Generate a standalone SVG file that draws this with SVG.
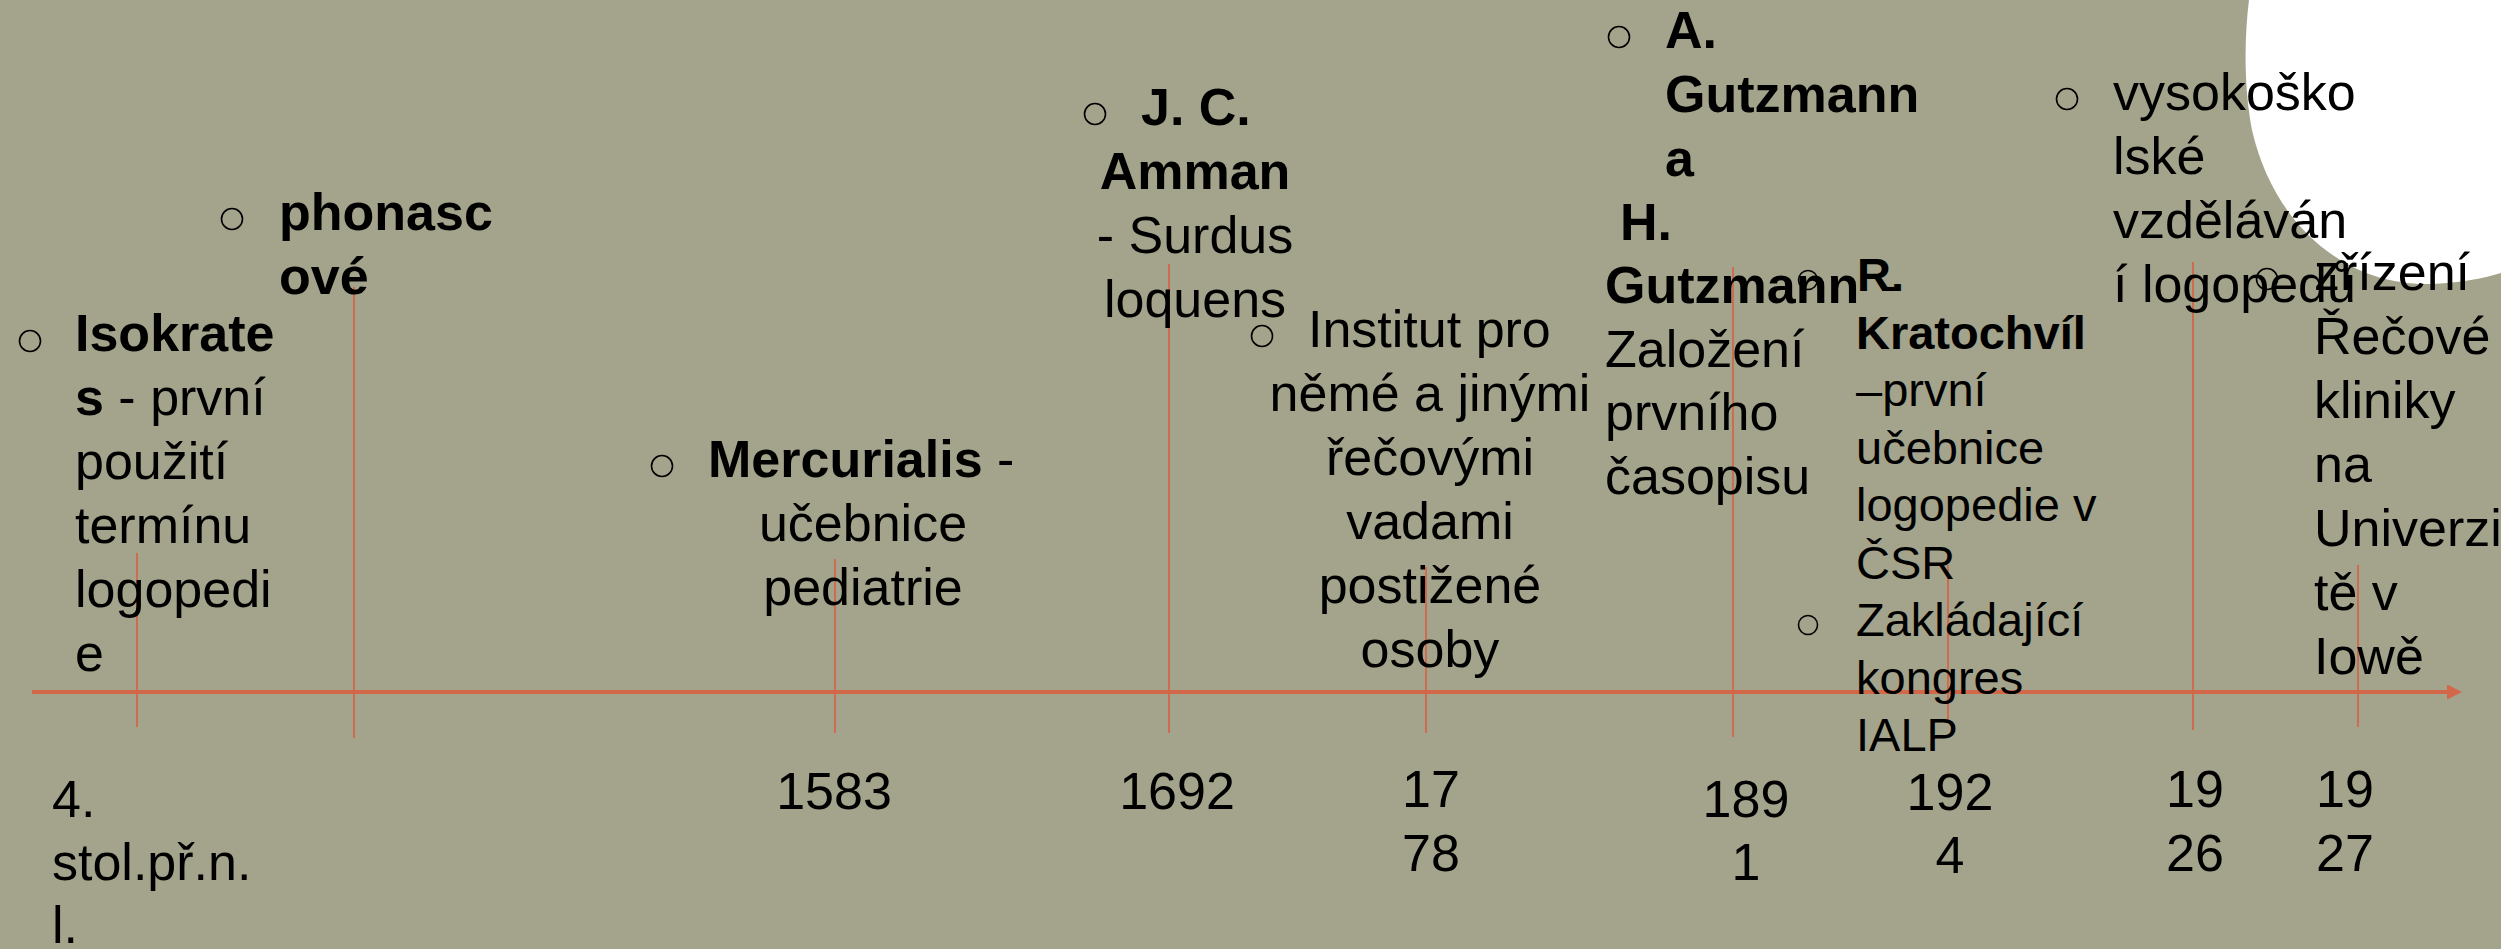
<svg xmlns="http://www.w3.org/2000/svg" width="2501" height="949" viewBox="0 0 2501 949">
<defs>
<style>
text{font-family:"Liberation Sans",Arial,sans-serif;font-size:52px;fill:#000}
.b{font-weight:bold}
.s{font-size:47px}
.c{text-anchor:middle}
.bul{fill:none;stroke:#000;stroke-width:1.6}
.tick{stroke:#D2674A;stroke-width:1.8}
.axis{stroke:#D2674A;stroke-width:4;fill:none}
</style>
<marker id="arr" markerUnits="userSpaceOnUse" markerWidth="15" markerHeight="15" refX="0" refY="7.5" orient="auto">
<path d="M0,0 L15,7.5 L0,15 Z" fill="#D2674A"/>
</marker>
</defs>
<rect x="0" y="0" width="2501" height="949" fill="#A4A48C"/>
<path id="white-shape" d="M2249,0 C2244,40 2244,90 2252,130 C2275,230 2350,286 2430,284 C2460,283 2485,278 2501,273 L2501,0 Z" fill="#FFFFFF"/>
<g id="connectors">
<line class="axis" x1="32" y1="692" x2="2447" y2="692" marker-end="url(#arr)"/>
<line class="tick" x1="137" y1="553" x2="137" y2="727"/>
<line class="tick" x1="354" y1="287" x2="354" y2="738"/>
<line class="tick" x1="835" y1="559" x2="835" y2="733"/>
<line class="tick" x1="1169" y1="264" x2="1169" y2="733"/>
<line class="tick" x1="1426" y1="567" x2="1426" y2="733"/>
<line class="tick" x1="1733" y1="267" x2="1733" y2="737"/>
<line class="tick" x1="1948" y1="565" x2="1948" y2="720"/>
<line class="tick" x1="2193" y1="262" x2="2193" y2="730"/>
<line class="tick" x1="2358" y1="565" x2="2358" y2="727"/>
</g>
<g id="node-isokrates">
<circle class="bul" cx="30" cy="341" r="10.5"/>
<text x="75" y="351" class="b">Isokrate</text>
<text x="75" y="415"><tspan class="b">s</tspan> - první</text>
<text x="75" y="479">použití</text>
<text x="75" y="543">termínu</text>
<text x="75" y="607">logopedi</text>
<text x="75" y="671">e</text>
<text x="52" y="817">4.</text>
<text x="52" y="880">stol.př.n.</text>
<text x="52" y="943">l.</text>
</g>
<g id="node-phonascove">
<circle class="bul" cx="232" cy="219" r="10.5"/>
<text x="279" y="230" class="b">phonasc</text>
<text x="279" y="294" class="b">ové</text>
</g>
<g id="node-mercurialis">
<circle class="bul" cx="662" cy="466" r="10.5"/>
<text x="708" y="477"><tspan class="b">Mercurialis</tspan> -</text>
<text x="863" y="541" class="c">učebnice</text>
<text x="863" y="605" class="c">pediatrie</text>
<text x="834" y="809" class="c">1583</text>
</g>
<g id="node-amman">
<circle class="bul" cx="1095" cy="114" r="10.5"/>
<text x="1141" y="125" class="b">J. C.</text>
<text x="1195" y="189" class="b c">Amman</text>
<text x="1195" y="253" class="c">- Surdus</text>
<text x="1195" y="317" class="c">loquens</text>
<text x="1177" y="809" class="c">1692</text>
</g>
<g id="node-institut">
<circle class="bul" cx="1262" cy="336" r="10.5"/>
<text x="1308" y="347">Institut pro</text>
<text x="1430" y="411" class="c">němé a jinými</text>
<text x="1430" y="475" class="c">řečovými</text>
<text x="1430" y="539" class="c">vadami</text>
<text x="1430" y="603" class="c">postižené</text>
<text x="1430" y="667" class="c">osoby</text>
<text x="1431" y="807" class="c">17</text>
<text x="1431" y="871" class="c">78</text>
</g>
<g id="node-gutzmann">
<circle class="bul" cx="1619" cy="37" r="10.5"/>
<text x="1665" y="48" class="b">A.</text>
<text x="1665" y="112" class="b">Gutzmann</text>
<text x="1665" y="176" class="b">a</text>
<text x="1620" y="240" class="b">H.</text>
<text x="1605" y="303"><tspan class="b">Gutzmann</tspan><tspan dx="6"> -</tspan></text>
<text x="1605" y="367">Založení</text>
<text x="1605" y="430">prvního</text>
<text x="1605" y="494">časopisu</text>
<text x="1746" y="817" class="c">189</text>
<text x="1746" y="880" class="c">1</text>
</g>
<g id="node-kratochvil">
<circle class="bul" cx="1808" cy="280" r="9.5"/>
<text x="1857" y="291" class="b s">R.</text>
<text x="1856" y="349" class="b s">Kratochvíl</text>
<text x="1856" y="406" class="s">–první</text>
<text x="1856" y="464" class="s">učebnice</text>
<text x="1856" y="521" class="s">logopedie v</text>
<text x="1856" y="579" class="s">ČSR</text>
<circle class="bul" cx="1808" cy="625" r="9.5"/>
<text x="1856" y="636" class="s">Zakládající</text>
<text x="1856" y="694" class="s">kongres</text>
<text x="1856" y="751" class="s">IALP</text>
<text x="1950" y="810" class="c">192</text>
<text x="1950" y="873" class="c">4</text>
</g>
<g id="node-vysokoskolske">
<circle class="bul" cx="2067" cy="99" r="10.5"/>
<text x="2113" y="110">vysokoško</text>
<text x="2113" y="174">lské</text>
<text x="2113" y="238">vzděláván</text>
<text x="2113" y="302">í logopedů</text>
<text x="2195" y="807" class="c">19</text>
<text x="2195" y="871" class="c">26</text>
</g>
<g id="node-zrizeni">
<circle class="bul" cx="2267" cy="279" r="10.5"/>
<text x="2314" y="290">zřízení</text>
<text x="2314" y="354">Řečové</text>
<text x="2314" y="418">kliniky</text>
<text x="2314" y="482">na</text>
<text x="2314" y="546">Univerzi</text>
<text x="2314" y="610">tě v</text>
<text x="2314" y="674">Iowě</text>
<text x="2345" y="807" class="c">19</text>
<text x="2345" y="871" class="c">27</text>
</g>
</svg>
